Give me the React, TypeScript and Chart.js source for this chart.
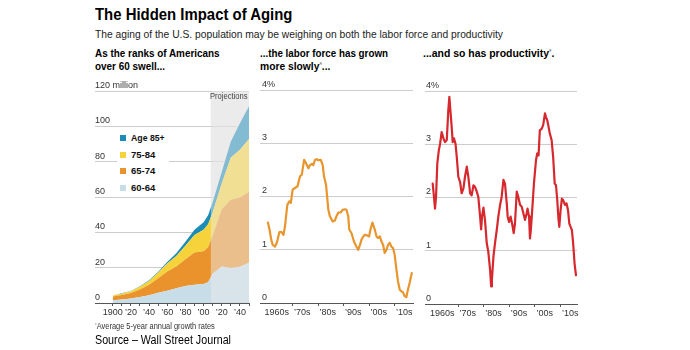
import React, { useEffect, useRef } from "react";
import { Chart, registerables } from "chart.js";
Chart.register(...registerables);

// ---------------- data ----------------
const popYears = [1900, 1910, 1920, 1930, 1940, 1950, 1960, 1970, 1980, 1990, 2000, 2005, 2010, 2020, 2030, 2040, 2050];
const pop6064 = [1.6, 2.0, 2.6, 3.4, 4.4, 5.8, 7.0, 8.4, 9.6, 10.4, 10.7, 11.8, 16.5, 20.6, 19.8, 20.5, 22.8];
const pop6574 = [2.1, 2.5, 3.0, 4.3, 6.0, 8.2, 10.8, 12.2, 15.2, 18.2, 18.6, 19.8, 21.5, 32.5, 38.6, 39.2, 40.0];
const pop7584 = [0.5, 0.8, 1.0, 1.5, 2.1, 3.2, 4.5, 6.0, 7.6, 9.9, 12.2, 13.0, 13.2, 14.5, 24.0, 27.0, 30.0];
const pop85 = [0.1, 0.15, 0.2, 0.25, 0.35, 0.55, 0.9, 1.5, 2.2, 3.0, 4.2, 5.0, 5.8, 6.5, 9.0, 15.0, 18.5];
const projectionStart = 2008;

const popTickYears = [1900, 1910, 1920, 1930, 1940, 1950, 1960, 1970, 1980, 1990, 2000, 2010, 2020, 2030, 2040, 2050];
const popLabelYears = [1900, 1920, 1940, 1960, 1980, 2000, 2020, 2040];
const popLabels = ["1900", "\u201920", "\u201940", "\u201960", "\u201980", "\u201900", "\u201920", "\u201940"];
const popYTicks = [0, 20, 40, 60, 80, 100, 120];
const popYLabels = ["0", "20", "40", "60", "80", "100", "120 million"];

const legendLabels = ["Age 85+", "75-84", "65-74", "60-64"];

const laborYears = [1960.3, 1960.9, 1961.6, 1962.2, 1963.1, 1963.8, 1964.8, 1965.7, 1966.4, 1967.0, 1967.9, 1968.7, 1969.3, 1970.0, 1970.9, 1971.9, 1972.9, 1973.6, 1974.5, 1975.2, 1976.2, 1976.8, 1977.5, 1978.1, 1978.8, 1979.4, 1980.1, 1981.0, 1981.8, 1982.3, 1983.1, 1984.0, 1984.6, 1985.7, 1986.6, 1987.2, 1987.9, 1988.8, 1989.6, 1990.5, 1991.1, 1991.8, 1992.2, 1993.1, 1994.0, 1995.0, 1995.7, 1996.4, 1997.0, 1997.7, 1998.3, 1999.2, 2000.0, 2000.5, 2001.3, 2002.2, 2002.9, 2003.5, 2004.2, 2004.8, 2005.5, 2006.1, 2006.8, 2007.4, 2008.1, 2008.7, 2009.4, 2010.0, 2010.7, 2011.3, 2012.0, 2012.6, 2013.3, 2013.9, 2014.6, 2015.2, 2015.9, 2016.7];
const laborRate = [1.51, 1.39, 1.19, 1.09, 1.06, 1.13, 1.33, 1.33, 1.28, 1.44, 1.84, 1.91, 1.88, 2.13, 2.16, 2.19, 2.38, 2.41, 2.69, 2.63, 2.53, 2.59, 2.61, 2.59, 2.69, 2.70, 2.68, 2.69, 2.59, 2.38, 2.22, 1.75, 1.63, 1.53, 1.55, 1.63, 1.70, 1.70, 1.75, 1.76, 1.75, 1.63, 1.38, 1.31, 1.16, 1.06, 1.00, 1.09, 1.19, 1.25, 1.28, 1.27, 1.25, 1.38, 1.51, 1.38, 1.25, 1.22, 1.25, 1.16, 1.09, 0.94, 1.00, 1.09, 1.13, 1.06, 1.03, 0.91, 0.63, 0.41, 0.25, 0.22, 0.20, 0.13, 0.11, 0.25, 0.38, 0.56];

const prodYears = [1960.1, 1960.6, 1961.0, 1961.4, 1961.9, 1962.5, 1963.0, 1963.6, 1964.3, 1964.9, 1965.6, 1966.2, 1966.6, 1967.0, 1967.5, 1967.9, 1968.4, 1969.0, 1969.5, 1970.1, 1970.8, 1971.4, 1972.1, 1972.7, 1973.4, 1974.0, 1974.7, 1975.3, 1976.0, 1976.6, 1977.3, 1977.9, 1978.6, 1979.0, 1979.35, 1979.9, 1980.5, 1981.2, 1981.8, 1982.5, 1982.9, 1983.2, 1983.8, 1984.4, 1985.1, 1985.7, 1986.4, 1987.0, 1987.7, 1988.3, 1989.0, 1989.35, 1989.9, 1990.5, 1991.2, 1991.7, 1992.2, 1992.9, 1993.5, 1994.2, 1994.8, 1995.5, 1996.1, 1996.75, 1997.1, 1997.7, 1998.05, 1998.4, 1999.1, 1999.6, 2000.4, 2000.9, 2001.4, 2001.9, 2002.6, 2003.2, 2003.9, 2004.3, 2004.8, 2005.3, 2005.8, 2006.5, 2007.1, 2007.7, 2008.2, 2008.7, 2009.2, 2009.5, 2010.0, 2010.5, 2011.0, 2011.7, 2012.3, 2012.9, 2013.4, 2013.9, 2014.4, 2014.9, 2015.45, 2016.0];
const prodRate = [2.26, 2.01, 1.79, 2.01, 2.64, 2.89, 3.01, 3.23, 3.11, 3.04, 3.08, 3.64, 3.89, 3.64, 3.33, 3.04, 3.11, 3.01, 2.76, 2.39, 2.29, 2.08, 2.17, 2.39, 2.58, 2.39, 2.08, 2.04, 2.23, 2.20, 2.11, 2.01, 1.64, 1.40, 1.64, 1.81, 1.58, 1.14, 0.98, 0.64, 0.33, 0.45, 0.89, 1.14, 1.39, 1.64, 1.86, 2.01, 2.33, 2.26, 1.89, 1.64, 1.54, 1.64, 1.48, 1.33, 1.51, 2.11, 2.01, 1.86, 1.83, 1.70, 1.58, 1.70, 1.79, 1.64, 1.23, 1.39, 1.89, 2.26, 2.70, 2.83, 2.79, 3.26, 3.29, 3.36, 3.58, 3.51, 3.45, 3.33, 3.20, 3.08, 2.76, 2.26, 2.23, 1.95, 1.58, 1.45, 1.76, 1.98, 1.95, 1.86, 1.89, 1.76, 1.51, 1.45, 1.39, 1.14, 0.76, 0.54];

const decadeTicks = [1970, 1980, 1990, 2000, 2010];
const decadeLabelPos = [1963.8, 1973.8, 1983.8, 1993.8, 2003.8, 2013.8];
const decadeLabels = ["1960s", "\u201970s", "\u201980s", "\u201990s", "\u201900s", "\u201910s"];
const rateYTicks = [0, 1, 2, 3, 4];
const rateYLabels = ["0", "1", "2", "3", "4%"];

// ---------------- styles ----------------
const C_6064 = "#c7dde8";
const C_6574 = "#ea922c";
const C_7584 = "#f7d33b";
const C_85 = "#1b8cb8";
const C_LABOR = "#e8952e";
const C_PROD = "#d7282e";
const GRID = "#cccccc";
const AXIS = "#555555";
const HTML_FONT = '"Liberation Sans", Arial, Helvetica, sans-serif';

function fontAvailable(name: string): boolean {
  const c = document.createElement("canvas").getContext("2d")!;
  const s = "abcdefghijklmnopqrstuvwxyz0123456789";
  c.font = "20px monospace";
  const a = c.measureText(s).width;
  c.font = `20px "${name}", monospace`;
  const b = c.measureText(s).width;
  return Math.abs(a - b) > 0.5;
}

const hasNarrow = fontAvailable("Liberation Sans Narrow");
const TICK_FONT = hasNarrow
  ? { family: '"Liberation Sans Narrow", "Liberation Sans", Arial, sans-serif', size: 11 }
  : { family: '"Liberation Sans", Arial, sans-serif', size: 9 };

const measureCtx = document.createElement("canvas").getContext("2d")!;

function T(props: {
  x: number; baseline: number; size: number; weight?: number; width?: number;
  color?: string; text: string; children?: React.ReactNode;
}) {
  const { x, baseline, size, weight = 400, width, color = "#000", text, children } = props;
  measureCtx.font = `${weight} ${size}px ${HTML_FONT}`;
  const w = measureCtx.measureText(text).width;
  const sx = width ? width / w : 1;
  return (
    <div
      style={{
        position: "absolute", left: x, top: baseline - 0.8465 * size,
        fontFamily: HTML_FONT, fontSize: size, fontWeight: weight, lineHeight: `${size}px`,
        whiteSpace: "nowrap", color, transform: `scaleX(${sx})`, transformOrigin: "0 0",
      }}
    >
      {children ?? text}
    </div>
  );
}

const Sup = ({ c }: { c: string }) => (
  <span style={{ fontSize: "0.6em", position: "relative", top: "-0.45em", color: "#888" }}>{c}</span>
);

const projectionPlugin = {
  id: "projection",
  beforeDraw(chart: any) {
    const { ctx, chartArea, scales } = chart;
    const x0 = scales.x.getPixelForValue(projectionStart);
    ctx.save();
    ctx.fillStyle = "#ebebeb";
    ctx.fillRect(x0, chartArea.top, chartArea.right - x0, chartArea.bottom - chartArea.top);
    ctx.restore();
  },
  afterDatasetsDraw(chart: any) {
    const { ctx, chartArea, scales } = chart;
    const x0 = scales.x.getPixelForValue(projectionStart);
    ctx.save();
    ctx.fillStyle = "rgba(236,236,236,0.5)";
    ctx.fillRect(x0, chartArea.top, chartArea.right - x0, chartArea.bottom - chartArea.top - 0.5);
    ctx.restore();
  },
};

function yAxis(ticks: number[], labels: string[], max: number, pad: number, stacked = false) {
  return {
    stacked,
    min: 0,
    max,
    afterBuildTicks: (s: any) => { s.ticks = ticks.map((v) => ({ value: v })); },
    afterFit: (s: any) => { s.width = 0; },
    grid: {
      drawTicks: false,
      color: (ctx: any) => (ctx.tick && ctx.tick.value === 0 ? AXIS : GRID),
      lineWidth: 1,
    },
    border: { display: false },
    ticks: {
      mirror: true,
      padding: pad,
      labelOffset: -5.5,
      color: "#333",
      font: TICK_FONT,
      callback: (v: any) => {
        const i = ticks.indexOf(Number(v));
        return i >= 0 ? labels[i] : "";
      },
    },
  };
}

function popConfig(): any {
  const mk = (vals: number[]) => popYears.map((x, i) => ({ x, y: vals[i] }));
  const ds = (label: string, vals: number[], color: string, fill: any) => ({
    label, data: mk(vals), backgroundColor: color, borderColor: color, borderWidth: 0,
    pointRadius: 0, fill, tension: 0,
  });
  return {
    type: "line",
    data: {
      datasets: [
        ds("60-64", pop6064, C_6064, "origin"),
        ds("65-74", pop6574, C_6574, "-1"),
        ds("75-84", pop7584, C_7584, "-1"),
        ds("Age 85+", pop85, C_85, "-1"),
      ],
    },
    options: {
      animation: false,
      responsive: false,
      layout: { padding: { left: 2, right: 3, top: 15, bottom: 0 } },
      plugins: { legend: { display: false }, tooltip: { enabled: false } },
      scales: {
        x: {
          type: "linear",
          min: 1880.5,
          max: 2050,
          afterBuildTicks: (s: any) => { s.ticks = popTickYears.map((v) => ({ value: v })); },
          afterFit: (s: any) => { s.height = 22; },
          grid: { drawOnChartArea: false, drawTicks: true, tickLength: 3, color: AXIS },
          border: { display: true, color: AXIS, width: 1 },
          ticks: {
            autoSkip: false, maxRotation: 0, minRotation: 0, padding: 1, color: "#333", font: TICK_FONT,
            callback: (v: any) => {
              const i = popLabelYears.indexOf(Number(v));
              return i >= 0 ? popLabels[i] : "";
            },
          },
        },
        y: yAxis(popYTicks, popYLabels, 120, 0, true),
      },
    },
    plugins: [projectionPlugin],
  };
}

function rateConfig(xs: number[], ys: number[], color: string, min: number, max: number, pad: number): any {
  const tickVals = [...decadeLabelPos, ...decadeTicks].sort((a, b) => a - b);
  return {
    type: "line",
    data: {
      datasets: [
        {
          data: xs.map((x, i) => ({ x, y: ys[i] })),
          borderColor: color, borderWidth: 2.2, pointRadius: 0, fill: false, tension: 0,
          borderJoinStyle: "round", borderCapStyle: "round",
        },
      ],
    },
    options: {
      animation: false,
      responsive: false,
      layout: { padding: { left: 2, right: 3, top: 14, bottom: 0 } },
      plugins: { legend: { display: false }, tooltip: { enabled: false } },
      scales: {
        x: {
          type: "linear",
          min, max,
          afterBuildTicks: (s: any) => { s.ticks = tickVals.map((v) => ({ value: v })); },
          afterFit: (s: any) => { s.height = 22; },
          grid: {
            drawOnChartArea: false, drawTicks: true, tickLength: 3, color: AXIS,
            tickColor: (ctx: any) => (ctx.tick && decadeTicks.indexOf(ctx.tick.value) >= 0 ? AXIS : "rgba(0,0,0,0)"),
          },
          border: { display: true, color: AXIS, width: 1 },
          ticks: {
            autoSkip: false, maxRotation: 0, minRotation: 0, padding: 1, color: "#333", font: TICK_FONT,
            callback: (v: any) => {
              const i = decadeLabelPos.indexOf(Number(v));
              return i >= 0 ? decadeLabels[i] : "";
            },
          },
        },
        y: yAxis(rateYTicks, rateYLabels, 4, pad),
      },
    },
  };
}

const SOURCE_TEXT = "Source \u2013 Wall Street Journal";

export default function App() {
  const r1 = useRef<HTMLCanvasElement>(null);
  const r2 = useRef<HTMLCanvasElement>(null);
  const r3 = useRef<HTMLCanvasElement>(null);

  useEffect(() => {
    const c1 = new Chart(r1.current!, popConfig());
    const c2 = new Chart(r2.current!, rateConfig(laborYears, laborRate, C_LABOR, 1957.2, 2017.2, 2));
    const c3 = new Chart(r3.current!, rateConfig(prodYears, prodRate, C_PROD, 1957.1, 2016.4, 1));
    return () => { c1.destroy(); c2.destroy(); c3.destroy(); };
  }, []);

  const legendColors = [C_85, C_7584, C_6574, C_6064];
  const legendBase = [141, 158, 174, 191];
  const legendWidths = [33.7, 24.3, 24.3, 24.3];

  return (
    <div style={{ position: "absolute", left: 0, top: 0, width: 690, height: 350, background: "#fff", overflow: "hidden" }}>
      <canvas ref={r1} width={159} height={249} style={{ position: "absolute", left: 93, top: 76 }} />
      <canvas ref={r2} width={158} height={249} style={{ position: "absolute", left: 258, top: 76 }} />
      <canvas ref={r3} width={157} height={249} style={{ position: "absolute", left: 423, top: 77 }} />

      <T x={95} baseline={20.7} size={16} weight={700} width={198} text="The Hidden Impact of Aging" />
      <T x={95} baseline={37.7} size={10.5} width={408} color="#222"
        text="The aging of the U.S. population may be weighing on both the labor force and productivity" />
      <T x={95} baseline={57.3} size={11} weight={700} width={125} text="As the ranks of Americans" />
      <T x={95} baseline={70.7} size={11} weight={700} width={70} text="over 60 swell..." />
      <T x={260} baseline={57.3} size={11} weight={700} width={128} text="...the labor force has grown" />
      <T x={260} baseline={70.7} size={11} weight={700} width={72} text="more slowly*...">
        more slowly<Sup c="*" />...
      </T>
      <T x={423} baseline={57.3} size={11} weight={700} width={133} text="...and so has productivity*.">
        ...and so has productivity<Sup c="*" />.
      </T>

      {/* legend */}
      <div style={{ position: "absolute", left: 117, top: 132, width: 52, height: 62, background: "#fff" }} />
      {legendLabels.map((l, i) => (
        <React.Fragment key={l}>
          <div style={{ position: "absolute", left: 120, top: legendBase[i] - 6, width: 6, height: 6, background: legendColors[i] }} />
          <T x={130.7} baseline={legendBase[i]} size={9.5} weight={700} width={legendWidths[i]} color="#111" text={l} />
        </React.Fragment>
      ))}
      <T x={209.5} baseline={99.5} size={9} width={37.5} color="#444" text="Projections" />

      <T x={95} baseline={329.5} size={8.5} width={121} color="#333" text="*Average 5-year annual growth rates">
        <Sup c="*" />Average 5-year annual growth rates
      </T>
      <T x={95} baseline={344.5} size={12} width={136} color="#000" text={SOURCE_TEXT} />
    </div>
  );
}
